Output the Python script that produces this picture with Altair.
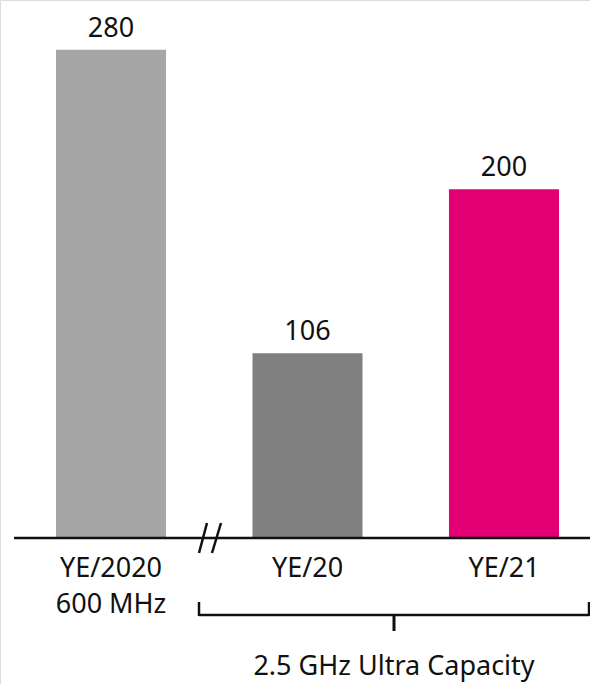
import altair as alt
import pandas as pd

categories = ["YE/2020", "YE/20", "YE/21"]
values = [280, 106, 200]
sub_labels = ["600 MHz", "", ""]
colors = ["#a6a6a6", "#808080", "#e20074"]
group_label = "2.5 GHz Ultra Capacity"

df = pd.DataFrame({"cat": categories, "val": values, "sub": sub_labels, "color": colors})

FONT = "Noto Sans"
FS = 27
W, H = 590, 684
BASE_Y = 538

x = alt.X("cat:N", sort=categories, axis=None,
          scale=alt.Scale(range=[56, 559], paddingInner=0.44, paddingOuter=0))
y = alt.Y("val:Q", axis=None,
          scale=alt.Scale(domain=[0, 308.5], nice=False, zero=True, range=[BASE_Y, 0]))

base = alt.Chart(df)

bars = base.mark_bar().encode(
    x=x, y=y, color=alt.Color("color:N", scale=None)
)

val_text = base.mark_text(font=FONT, fontSize=FS, baseline="alphabetic", dy=-13, color="#111").encode(
    x=x, y=y, text="val:Q"
)

cat_text = base.mark_text(font=FONT, fontSize=FS, baseline="alphabetic", color="#111").encode(
    x=x, y=alt.value(577), text="cat:N"
)
sub_text = base.mark_text(font=FONT, fontSize=FS, baseline="alphabetic", color="#111").encode(
    x=x, y=alt.value(613), text="sub:N"
)

one = pd.DataFrame({"a": [0]})
def rule(x1, y1, x2, y2, w=2.5):
    return alt.Chart(one).mark_rule(color="#111", strokeWidth=w).encode(
        x=alt.value(x1), y=alt.value(y1), x2=alt.value(x2), y2=alt.value(y2)
    )

axis_line = rule(14, BASE_Y, 590, BASE_Y)
slash1 = rule(199, 553, 207, 523)
slash2 = rule(212, 553, 221, 523)
br_h = rule(199, 615, 589, 615)
br_l = rule(199, 602, 199, 616)
br_r = rule(589, 602, 589, 616)
br_c = rule(394, 615, 394, 631, 3)

group_text = alt.Chart(one).mark_text(font=FONT, fontSize=FS, baseline="alphabetic", color="#111").encode(
    x=alt.value(394), y=alt.value(675), text=alt.value(group_label)
)

chart = alt.layer(
    bars, val_text, cat_text, sub_text, axis_line, slash1, slash2,
    br_h, br_l, br_r, br_c, group_text
).properties(
    width=W, height=H, autosize=alt.AutoSizeParams(type="none"), padding=0
).configure_view(stroke=None).configure(background="white")

chart.save("out.html", embed_options={"renderer": "svg", "actions": False})
